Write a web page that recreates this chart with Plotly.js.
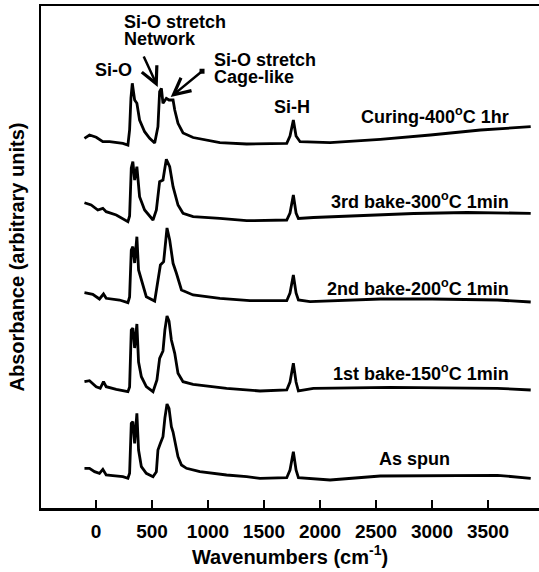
<!DOCTYPE html>
<html><head><meta charset="utf-8">
<script src="https://cdn.plot.ly/plotly-3.0.1.min.js"></script>
<style>html,body{margin:0;padding:0;background:#fff}</style>
</head><body><div id="chart" style="width:539px;height:572px"></div>
<script>
// Wavenumbers (cm-1) and absorbance (arbitrary units, vertically stacked)
const asSpunWn = [-103,-58,-13,31,61,91,150,240,285,300,315,329,345,365,380,405,449,509,539,553,575,598,615,634,652,673,688,703,732,763,808,927,1166,1345,1464,1703,1732,1762,1786,1807,1911,2090,2538,2986,3585,3881];
const asSpunAbs = [39.7,39.7,36.3,34.7,38.7,33,32.3,31.3,29.7,34.7,84.7,86.3,64.7,94.7,58,41.3,34.7,31.3,36.3,58,64.7,71.3,90,104,99.7,81.3,76,68,51.3,43,39.7,36.3,33,31.3,29.7,30.3,38,56.3,38,30.3,29.7,28,32,32.3,32.7,29.7];

const bake1Wn = [-103,-58,2,38,67,91,181,285,300,315,329,345,365,380,405,449,509,544,568,598,615,634,652,673,703,732,777,867,1166,1464,1703,1732,1762,1786,1807,1941,2628,3583,3881];
const bake1Abs = [126.3,127.3,121.3,119.7,126.3,121.3,118.7,116.3,121,178,180,160,184,146,131.3,121.3,116.3,128,149.7,157,178,192,187,168,154.7,134.7,126.3,123.7,119.7,117,118,126,144.7,126,117,119.7,120.7,119.7,118];

const bake2Wn = [-103,-29,31,67,91,210,285,300,315,329,345,365,380,405,449,524,553,575,604,615,634,658,688,718,763,867,1106,1374,1703,1732,1762,1786,1807,1911,2538,3000,3585,3881];
const bake2Abs = [215.3,213.7,209,214,209.7,208,205.3,211,258,261.3,245,271.3,238,228,211.3,207,228,243,246.3,262,280,268,244.7,234.7,218,213,209.7,207.3,207.3,215,233,215,208,206.3,209,209,208,206];

const bake3Wn = [-103,-43,16,61,91,181,285,300,315,329,345,365,389,434,509,539,568,598,615,628,658,688,732,777,867,1106,1345,1703,1732,1762,1786,1807,1941,2300,2836,3314,3881];
const bake3Abs = [305.3,303,298,299.7,296.3,293,286.3,292,340,346.3,328,341.3,311.3,298,288,298,326.3,328,340,348.7,341.3,321.3,303,294.7,291.3,289.7,287.3,288,295,313,295,289.5,290.5,292,294.5,295.5,294.7];

const curingWn = [-103,-58,2,61,121,240,285,300,312,324,345,365,389,434,479,524,553,568,584,598,628,652,688,703,732,777,867,1106,1345,1703,1732,1762,1786,1822,2090,2538,2986,3433,3881];
const curingAbs = [369.7,373,370.7,366.3,366.3,364.7,363,378,410,424.7,408,404.7,388,376.3,369.7,365,381.3,416.3,419.7,404.7,409.7,408,408,398,384.7,375,370.5,365.3,364,364.7,372,388,372,366.3,365.3,368.7,373,378,381.3];

const seriesNames = ["As spun","1st bake-150<sup>o</sup>C 1min","2nd bake-200<sup>o</sup>C 1min","3rd bake-300<sup>o</sup>C 1min","Curing-400<sup>o</sup>C 1hr"];
const tickVals = [0,500,1000,1500,2000,2500,3000,3500];
const tickText = ["0","500","1000","1500","2000","2500","3000","3500"];

const FONT = "Arial, 'Liberation Sans', sans-serif";
const bold = (size) => ({family: FONT, size: size, color: "#000", weight: "bold"});

const xs = [asSpunWn, bake1Wn, bake2Wn, bake3Wn, curingWn];
const ys = [asSpunAbs, bake1Abs, bake2Abs, bake3Abs, curingAbs];
const traces = xs.map((x, i) => ({
  x: x, y: ys[i], type: "scatter", mode: "lines", name: seriesNames[i],
  line: {color: "#000", width: 2.8}, showlegend: false, hoverinfo: "skip"
}));

const labelPos = [
  {x: 2842, y: 49, anchor: "center"},
  {x: 3702, y: 136, anchor: "right"},
  {x: 3702, y: 221, anchor: "right"},
  {x: 3702, y: 308, anchor: "right"},
  {x: 3702, y: 393, anchor: "right"}
];
const annotations = seriesNames.map((t, i) => ({
  text: t, x: labelPos[i].x, y: labelPos[i].y, xref: "x", yref: "y",
  xanchor: labelPos[i].anchor, yanchor: "middle", showarrow: false, font: bold(18)
}));
annotations.push(
  {text: "Si-O", x: 157, y: 438, xref: "x", yref: "y", xanchor: "center", yanchor: "middle", showarrow: false, font: bold(18)},
  {text: "Si-O stretch", x: 228, y: 486, xref: "x", yref: "y", xanchor: "left", yanchor: "middle", showarrow: false, font: bold(18)},
  {text: "Network", x: 228, y: 469, xref: "x", yref: "y", xanchor: "left", yanchor: "middle", showarrow: false, font: bold(18)},
  {text: "Si-O stretch", x: 1040, y: 448, xref: "x", yref: "y", xanchor: "left", yanchor: "middle", showarrow: false, font: bold(18)},
  {text: "Cage-like", x: 1040, y: 431, xref: "x", yref: "y", xanchor: "left", yanchor: "middle", showarrow: false, font: bold(18)},
  {text: "Si-H", x: 1750, y: 401, xref: "x", yref: "y", xanchor: "center", yanchor: "middle", showarrow: false, font: bold(18)},
  {text: "", x: 551, y: 421, xref: "x", yref: "y", axref: "x", ayref: "y", ax: 420, ay: 453,
   showarrow: true, arrowhead: 5, arrowsize: 1.3, arrowwidth: 2.5, arrowcolor: "#000"},
  {text: "", x: 667, y: 411, xref: "x", yref: "y", axref: "x", ayref: "y", ax: 960, ay: 438,
   showarrow: true, arrowhead: 5, arrowsize: 1.3, arrowwidth: 2.5, arrowcolor: "#000",
   arrowside: "end+start", startarrowhead: 7, startarrowsize: 0.5}
);

const layout = {
  width: 539, height: 572,
  margin: {l: 41, r: 0, t: 6, b: 64, pad: 0},
  paper_bgcolor: "#fff", plot_bgcolor: "#fff",
  showlegend: false,
  xaxis: {
    range: [-491, 3955], tickmode: "array", tickvals: tickVals,
    ticktext: tickText.map(t => "<b>" + t + "</b>"),
    ticks: "inside", ticklen: 8, tickwidth: 2.5, tickcolor: "#000",
    showline: true, linewidth: 2.5, linecolor: "#000", mirror: true,
    showgrid: false, zeroline: false, tickfont: {family: FONT, size: 19, color: "#000"}, ticklabelstandoff: 5,
    title: {text: "Wavenumbers (cm<sup>-1</sup>)", font: bold(20), standoff: 7}
  },
  yaxis: {
    range: [0, 502], showticklabels: false, ticks: "",
    showline: true, linewidth: 2.5, linecolor: "#000",
    showgrid: false, zeroline: false,
    title: {text: "Absorbance (arbitrary units)", font: bold(20), standoff: 9}
  },
  annotations: annotations
};

Plotly.newPlot("chart", traces, layout, {staticPlot: true, displayModeBar: false});
</script>
</body></html>
